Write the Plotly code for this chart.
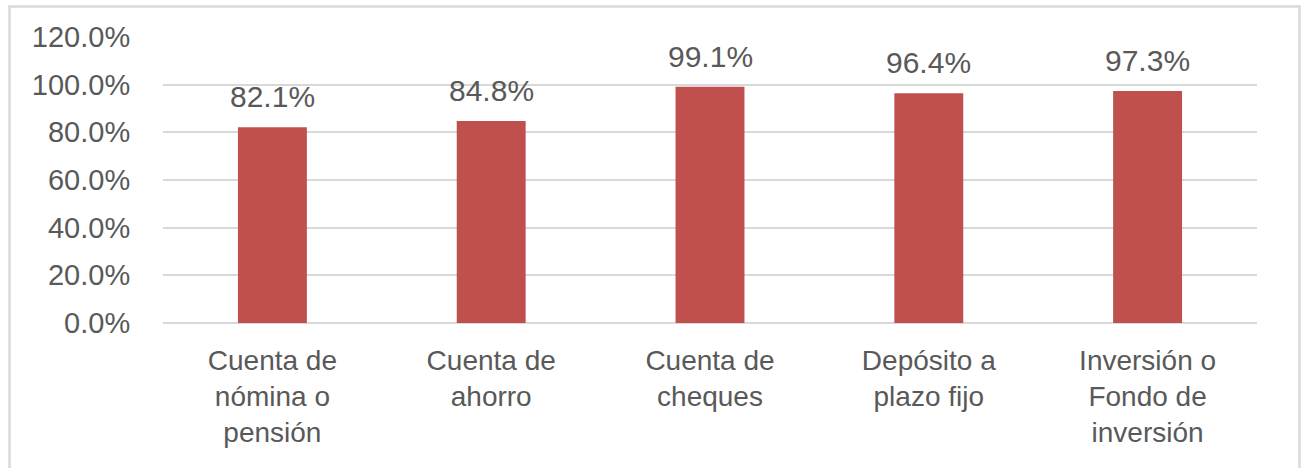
import plotly.graph_objects as go

# Account types (category labels wrapped onto several lines)
categories = [
    "Cuenta de<br>nómina o<br>pensión",
    "Cuenta de<br>ahorro",
    "Cuenta de<br>cheques",
    "Depósito a<br>plazo fijo",
    "Inversión o<br>Fondo de<br>inversión",
]
shares = [0.821, 0.848, 0.991, 0.964, 0.973]
y_ticks = [0.0, 0.2, 0.4, 0.6, 0.8, 1.0, 1.2]

W, H = 1303, 468
ML, MR, MT, MB = 163, 46, 37, 145
text_color = "#595959"
grid_color = "#d9d9d9"
font_family = "Liberation Sans, Arial, sans-serif"

fig = go.Figure(
    go.Bar(
        x=categories,
        y=shares,
        marker=dict(color="#c0504d", line=dict(width=0)),
        hoverinfo="skip",
    )
)

# Value labels above each bar
for cat, val in zip(categories, shares):
    fig.add_annotation(
        x=cat, y=val, xref="x", yref="y",
        text=f"{val:.1%}",
        showarrow=False,
        yanchor="bottom",
        yshift=12,
        font=dict(size=30, color=text_color, family=font_family),
    )

# Outer chart frame
pw = W - ML - MR
ph = H - MT - MB
fig.add_shape(
    type="rect", xref="paper", yref="paper",
    x0=(9.5 - ML) / pw, x1=(1299.5 - ML) / pw,
    y0=(H - MB - 480) / ph, y1=(H - MB - 6.5) / ph,
    line=dict(color=grid_color, width=2.5),
    fillcolor="rgba(0,0,0,0)",
    layer="below",
)

fig.update_layout(
    width=W, height=H,
    margin=dict(l=ML, r=MR, t=MT, b=MB),
    paper_bgcolor="white",
    plot_bgcolor="white",
    bargap=0.685,
    showlegend=False,
    font=dict(family=font_family, color=text_color),
)
fig.update_xaxes(
    type="category",
    tickangle=0,
    showgrid=False,
    showline=False,
    ticks="outside",
    ticklen=12,
    tickcolor="rgba(0,0,0,0)",
    tickfont=dict(size=28, color=text_color, family=font_family),
)
fig.update_yaxes(
    range=[0, 1.2],
    tickvals=y_ticks,
    tickformat=".1%",
    showgrid=True,
    gridcolor=grid_color,
    gridwidth=1.5,
    zeroline=True,
    zerolinecolor=grid_color,
    zerolinewidth=1.5,
    showline=False,
    ticks="outside",
    ticklen=26,
    tickcolor="rgba(0,0,0,0)",
    tickfont=dict(size=29, color=text_color, family=font_family),
)

fig.write_html("out.html")
